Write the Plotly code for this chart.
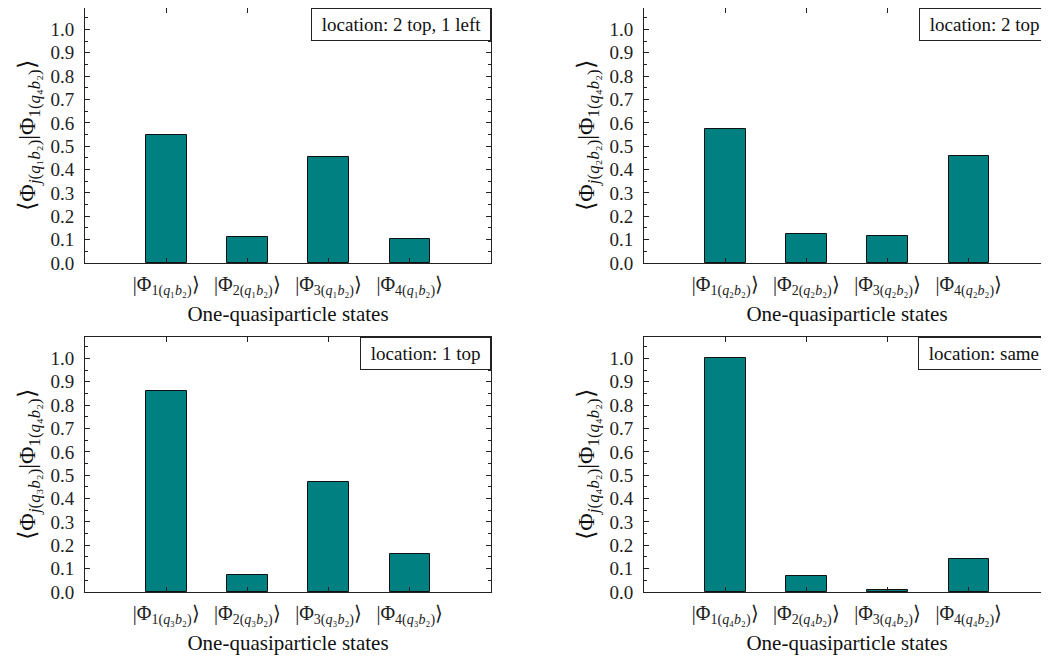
import plotly.graph_objects as go
from plotly.subplots import make_subplots

positions = [1, 2, 3, 4]
qubits = ["₁", "₂", "₃", "₄"]
locations = ["location: 2 top, 1 left", "location: 2 top", "location: 1 top", "location: same"]
vals_q1 = [0.549, 0.113, 0.456, 0.104]
vals_q2 = [0.572, 0.123, 0.114, 0.459]
vals_q3 = [0.859, 0.071, 0.472, 0.163]
vals_q4 = [1.000, 0.070, 0.010, 0.143]
series = [vals_q1, vals_q2, vals_q3, vals_q4]
ytick_vals = [round(0.1 * i, 1) for i in range(11)]
ytick_text = [f"{v:.1f}" for v in ytick_vals]
x_title = "One-quasiparticle states"

FONT = "Liberation Serif, Times New Roman, serif"
BAR = "#008080"
W, H = 1049, 659

fig = make_subplots(rows=2, cols=2)

xdoms = [[77 / W, 483 / W], [636 / W, 1042 / W]]
ydoms = [[1 - 255 / H, 1.0], [1 - 584 / H, 1 - 329 / H]]

for k in range(4):
    r, c = k // 2 + 1, k % 2 + 1
    q = qubits[k]
    ticktext = [f"|Φ<sub>{j}(<i>q</i>{q}<i>b</i>₂)</sub>⟩" for j in positions]
    fig.add_trace(go.Bar(x=positions, y=series[k], width=0.5,
                         marker=dict(color=BAR, line=dict(color="#111111", width=1)),
                         showlegend=False), row=r, col=c)
    fig.update_xaxes(row=r, col=c, range=[0, 5], domain=xdoms[c - 1], automargin=False,
                     tickmode="array", tickvals=positions, ticktext=ticktext,
                     ticks="inside", ticklen=5, tickcolor="#222", showline=True,
                     linecolor="#222", linewidth=1, mirror="ticks", showgrid=False,
                     zeroline=False, ticklabelstandoff=3,
                     tickfont=dict(family=FONT, size=20, color="#222"),
                     title=dict(text=x_title, font=dict(family=FONT, size=21, color="#111"), standoff=8))
    fig.update_yaxes(row=r, col=c, range=[0, 1.092], domain=ydoms[r - 1], automargin=False,
                     tickmode="array", tickvals=ytick_vals, ticktext=ytick_text,
                     ticks="inside", ticklen=5, tickcolor="#222", showline=True,
                     linecolor="#222", linewidth=1, mirror="ticks", showgrid=False,
                     zeroline=False, ticklabelstandoff=6,
                     minor=dict(ticks="inside", ticklen=3, dtick=0.05, tick0=0, tickcolor="#222"),
                     tickfont=dict(family=FONT, size=19, color="#222"),
                     title=dict(text=f"⟨Φ<sub><i>j</i>(<i>q</i>{q}<i>b</i>₂)</sub>|Φ<sub>1(<i>q</i>₄<i>b</i>₂)</sub>⟩",
                                font=dict(family=FONT, size=24, color="#111"), standoff=8))
    xa = "x" if k == 0 else f"x{k+1}"
    ya = "y" if k == 0 else f"y{k+1}"
    fig.add_annotation(xref=f"{xa} domain", yref=f"{ya} domain",
                       x=1, y=1, xanchor="right", yanchor="top", showarrow=False,
                       text="&nbsp;" + locations[k] + "&nbsp;", font=dict(family=FONT, size=19, color="#111"),
                       bordercolor="#222", borderwidth=1, borderpad=5, bgcolor="white")

fig.update_layout(width=W, height=H, margin=dict(l=0, r=0, t=0, b=0),
                  plot_bgcolor="white", paper_bgcolor="white", bargap=0)
fig.write_html("out.html")
